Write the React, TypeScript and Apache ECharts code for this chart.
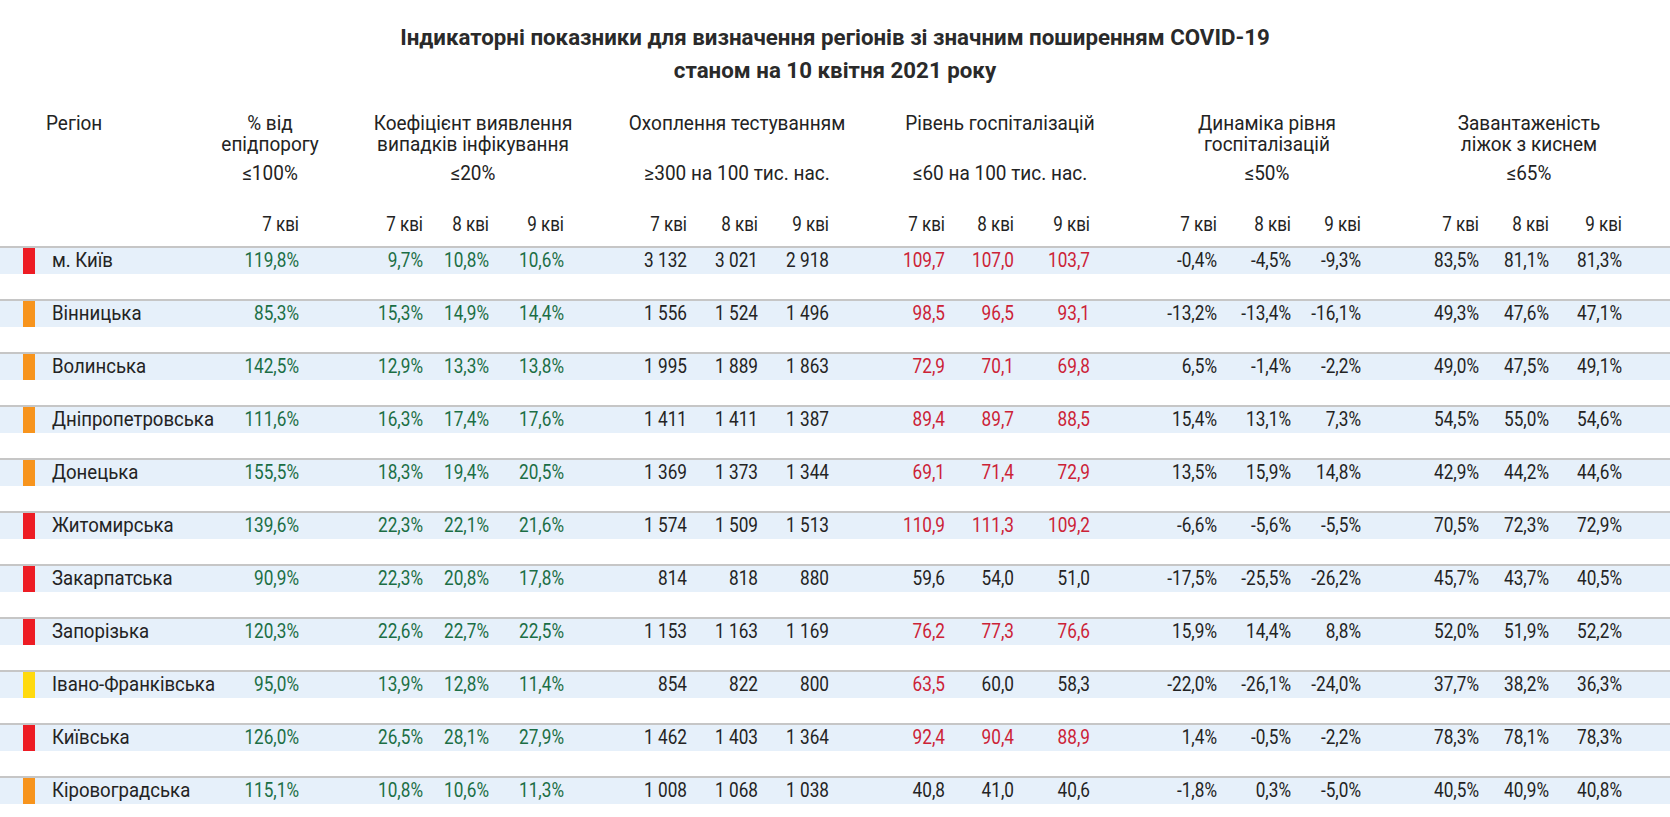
import React, { useEffect, useRef } from "react";
import * as echarts from "echarts";

const TITLE_LINES = [
  "Індикаторні показники для визначення регіонів зі значним поширенням COVID-19",
  "станом на 10 квітня 2021 року",
];
const REGION_HEADER = "Регіон";
const DAYS = ["7 кві", "8 кві", "9 кві"];

const GROUP_TITLES = [
  ["% від", "епідпорогу"],
  ["Коефіцієнт виявлення", "випадків інфікування"],
  ["Охоплення тестуванням"],
  ["Рівень госпіталізацій"],
  ["Динаміка рівня", "госпіталізацій"],
  ["Завантаженість", "ліжок з киснем"],
];
const GROUP_NORMS = ["≤100%", "≤20%", "≥300 на 100 тис. нас.", "≤60 на 100 тис. нас.", "≤50%", "≤65%"];

const regions = [
  "м. Київ",
  "Вінницька",
  "Волинська",
  "Дніпропетровська",
  "Донецька",
  "Житомирська",
  "Закарпатська",
  "Запорізька",
  "Івано-Франківська",
  "Київська",
  "Кіровоградська",
];
const regionZone = ["red", "orange", "orange", "orange", "orange", "red", "red", "red", "yellow", "red", "orange"];

const epiThresholdPct = [119.8, 85.3, 142.5, 111.6, 155.5, 139.6, 90.9, 120.3, 95.0, 126.0, 115.1];

const detectionRate = [
  [9.7, 10.8, 10.6],
  [15.3, 14.9, 14.4],
  [12.9, 13.3, 13.8],
  [16.3, 17.4, 17.6],
  [18.3, 19.4, 20.5],
  [22.3, 22.1, 21.6],
  [22.3, 20.8, 17.8],
  [22.6, 22.7, 22.5],
  [13.9, 12.8, 11.4],
  [26.5, 28.1, 27.9],
  [10.8, 10.6, 11.3],
];

const testingCoverage = [
  [3132, 3021, 2918],
  [1556, 1524, 1496],
  [1995, 1889, 1863],
  [1411, 1411, 1387],
  [1369, 1373, 1344],
  [1574, 1509, 1513],
  [814, 818, 880],
  [1153, 1163, 1169],
  [854, 822, 800],
  [1462, 1403, 1364],
  [1008, 1068, 1038],
];

const hospitalRate = [
  [109.7, 107.0, 103.7],
  [98.5, 96.5, 93.1],
  [72.9, 70.1, 69.8],
  [89.4, 89.7, 88.5],
  [69.1, 71.4, 72.9],
  [110.9, 111.3, 109.2],
  [59.6, 54.0, 51.0],
  [76.2, 77.3, 76.6],
  [63.5, 60.0, 58.3],
  [92.4, 90.4, 88.9],
  [40.8, 41.0, 40.6],
];
const HOSPITAL_LIMIT = 60;

const hospitalDynamics = [
  [-0.4, -4.5, -9.3],
  [-13.2, -13.4, -16.1],
  [6.5, -1.4, -2.2],
  [15.4, 13.1, 7.3],
  [13.5, 15.9, 14.8],
  [-6.6, -5.6, -5.5],
  [-17.5, -25.5, -26.2],
  [15.9, 14.4, 8.8],
  [-22.0, -26.1, -24.0],
  [1.4, -0.5, -2.2],
  [-1.8, 0.3, -5.0],
];

const oxygenBeds = [
  [83.5, 81.1, 81.3],
  [49.3, 47.6, 47.1],
  [49.0, 47.5, 49.1],
  [54.5, 55.0, 54.6],
  [42.9, 44.2, 44.6],
  [70.5, 72.3, 72.9],
  [45.7, 43.7, 40.5],
  [52.0, 51.9, 52.2],
  [37.7, 38.2, 36.3],
  [78.3, 78.1, 78.3],
  [40.5, 40.9, 40.8],
];

// ---- layout / style (not data) ----
const W = 1670;
const H = 817;
const FONT = "Roboto, 'Noto Sans', sans-serif";
const COL_RIGHT = [299, 423, 489, 564, 687, 758, 829, 945, 1014, 1090, 1217, 1291, 1361, 1479, 1549, 1622];
const GROUP_FIRST_COL = [0, 1, 4, 7, 10, 13];
const GROUP_CENTER = [270, 473, 737, 1000, 1267, 1529];
const ZONE_COLORS: Record<string, string> = { red: "#ed1c24", orange: "#f7941d", yellow: "#ffda0f" };
const GREEN = "#1b6e45";
const RED = "#cc2236";
const DARK = "#232323";

const fmt1 = (v: number) => v.toFixed(1).replace(".", ",");
const fmtPct = (v: number) => fmt1(v) + "%";
const fmtInt = (v: number) => String(v).replace(/\B(?=(\d{3})+(?!\d))/g, " ");

function rowCells(i: number) {
  const cells: { text: string; color: string }[] = [];
  cells.push({ text: fmtPct(epiThresholdPct[i]), color: GREEN });
  detectionRate[i].forEach((v) => cells.push({ text: fmtPct(v), color: GREEN }));
  testingCoverage[i].forEach((v) => cells.push({ text: fmtInt(v), color: DARK }));
  hospitalRate[i].forEach((v) => cells.push({ text: fmt1(v), color: v > HOSPITAL_LIMIT ? RED : DARK }));
  hospitalDynamics[i].forEach((v) => cells.push({ text: fmtPct(v), color: DARK }));
  oxygenBeds[i].forEach((v) => cells.push({ text: fmtPct(v), color: DARK }));
  return cells;
}

function txt(
  text: string,
  x: number,
  y: number,
  align: string,
  size: number,
  sx: number,
  color: string,
  weight = "normal"
) {
  return {
    type: "text",
    x,
    y,
    scaleX: sx,
    style: {
      text,
      x: 0,
      y: 0,
      align,
      verticalAlign: "middle",
      fontSize: size,
      fontFamily: FONT,
      fontWeight: weight,
      fill: color,
    },
  };
}

export default function App() {
  const ref = useRef<HTMLDivElement>(null);
  useEffect(() => {
    if (!ref.current) return;
    const chart = echarts.init(ref.current, undefined, { renderer: "svg" });

    const graphics: any[] = [];
    graphics.push(txt(TITLE_LINES[0], W / 2, 37, "center", 23, 0.97, "#2a2a2a", "bold"));
    graphics.push(txt(TITLE_LINES[1], W / 2, 70, "center", 23, 0.97, "#2a2a2a", "bold"));
    graphics.push(txt(REGION_HEADER, 46, 123, "left", 20, 0.95, DARK));
    GROUP_TITLES.forEach((lines, g) => {
      lines.forEach((l, k) => graphics.push(txt(l, GROUP_CENTER[g], 123 + k * 21, "center", 20, 0.95, DARK)));
      graphics.push(txt(GROUP_NORMS[g], GROUP_CENTER[g], 173, "center", 20, 0.95, DARK));
      const nDays = g === 0 ? 1 : 3;
      for (let d = 0; d < nDays; d++) {
        graphics.push(txt(DAYS[d], COL_RIGHT[GROUP_FIRST_COL[g] + d], 225, "right", 20, 0.85, DARK));
      }
    });

    const option: any = {
      animation: false,
      grid: { left: 0, right: 0, top: 234, height: 586.3 },
      xAxis: { type: "value", min: 0, max: W, show: false },
      yAxis: { type: "category", data: regions, inverse: true, show: false },
      graphic: graphics,
      series: [
        {
          type: "custom",
          data: regions.map((_, i) => [0, i]),
          renderItem: (params: any, api: any) => {
            const row = api.value(1);
            const cy = api.coord([0, row])[1];
            const xL = api.coord([0, row])[0];
            const xR = api.coord([W, row])[0];
            const children: any[] = [
              { type: "rect", shape: { x: xL, y: cy - 12.5, width: xR - xL, height: 26 }, style: { fill: "#e6f0fa" } },
              { type: "rect", shape: { x: xL, y: cy - 14.5, width: xR - xL, height: 2 }, style: { fill: "#c6c6c6" } },
              {
                type: "rect",
                shape: { x: api.coord([23, row])[0], y: cy - 12.5, width: 12, height: 26 },
                style: { fill: ZONE_COLORS[regionZone[row]] },
              },
              txt(regions[row], api.coord([52, row])[0], cy, "left", 20, 0.93, DARK),
            ];
            rowCells(row).forEach((c, j) => {
              children.push(txt(c.text, api.coord([COL_RIGHT[j], row])[0], cy, "right", 20, 0.86, c.color));
            });
            return { type: "group", children };
          },
        },
      ],
    };
    chart.setOption(option);
    return () => chart.dispose();
  }, []);
  return <div ref={ref} style={{ position: "absolute", left: 0, top: 0, width: W, height: H, background: "#fff" }} />;
}
